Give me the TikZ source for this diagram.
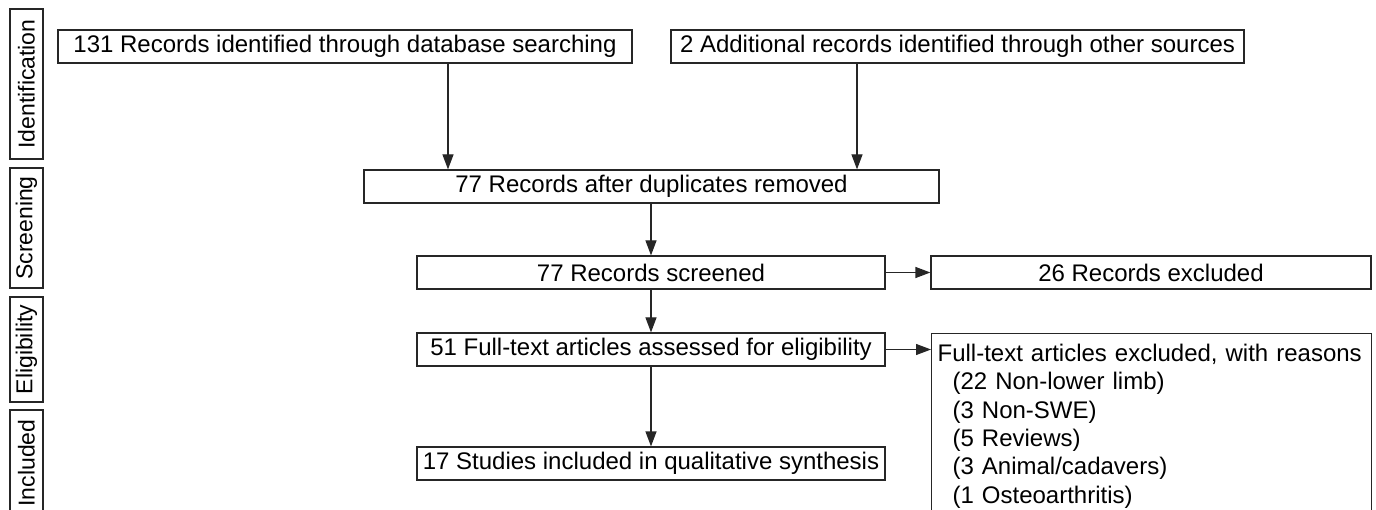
\documentclass[tikz,border=0pt]{standalone}
\usepackage{fontspec}
\setmainfont{Liberation Sans}
\usetikzlibrary{arrows.meta}
\begin{document}
\begin{tikzpicture}[x=1pt,y=-1pt,
  box/.style={draw=black!85, line width=1.2pt, minimum height=33pt, inner sep=0pt, font=\fontsize{24}{29}\selectfont},
  lab/.style={draw=black!85, line width=1.2pt, rotate=90, minimum height=33pt, inner sep=0pt, font=\fontsize{23}{28}\selectfont},
  arr/.style={draw=black!85, line width=1.2pt, -{Triangle[length=15pt,width=11pt]}}]
\useasboundingbox (0,0) rectangle (1376,510);
\clip (0,0) rectangle (1376,510);
% stage labels
\node[lab, minimum width=150pt] (idl) at (26.5,84) {Identification};
\node[lab, minimum width=120pt] (scl) at (26.5,228) {Screening};
\node[lab, minimum width=105pt] (ell) at (26.5,349.5) {Eligibility};
\node[lab, minimum width=106pt] (inl) at (26.5,463) {Included};
% boxes
\node[box, minimum width=574pt] (a) at (345,46.5) {131 Records identified through database searching};
\node[box, minimum width=573pt] (b) at (957.5,46.5) {2 Additional records identified through other sources};
\node[box, minimum width=575pt] (c) at (651.5,186.5) {77 Records after duplicates removed};
\node[box, minimum width=468pt] (d) at (651,272.5) {77 Records screened};
\node[box, minimum width=440pt] (e) at (1151,272.5) {26 Records excluded};
\node[box, minimum width=468pt] (f) at (651,349.5) {51 Full-text articles assessed for eligibility};
\node[box, minimum width=468pt] (h) at (651,463.5) {17 Studies included in qualitative synthesis};
\node[draw=black!85, line width=1.2pt, anchor=north west, inner xsep=6pt, inner ysep=7pt,
      text width=428pt, align=left, minimum height=185pt,
      font=\fontsize{24}{28.4}\selectfont] (g) at (931,333)
  {Full-text articles excluded, with reasons\\
   \hspace*{15pt}(22 Non-lower limb)\\
   \hspace*{15pt}(3 Non-SWE)\\
   \hspace*{15pt}(5 Reviews)\\
   \hspace*{15pt}(3 Animal/cadavers)\\
   \hspace*{15pt}(1 Osteoarthritis)};
% connectors
\coordinate (xa) at (448,0);
\coordinate (xb) at (857,0);
\draw[arr] (a.south -| xa) -- (c.north -| xa);
\draw[arr] (b.south -| xb) -- (c.north -| xb);
\draw[arr] (c.south -| d.north) -- (d.north);
\draw[arr] (d.south) -- (f.north);
\draw[arr] (f.south) -- (h.north);
\draw[arr] (d.east) -- (e.west);
\draw[arr] (f.east) -- (g.west |- f.east);
\end{tikzpicture}
\end{document}
